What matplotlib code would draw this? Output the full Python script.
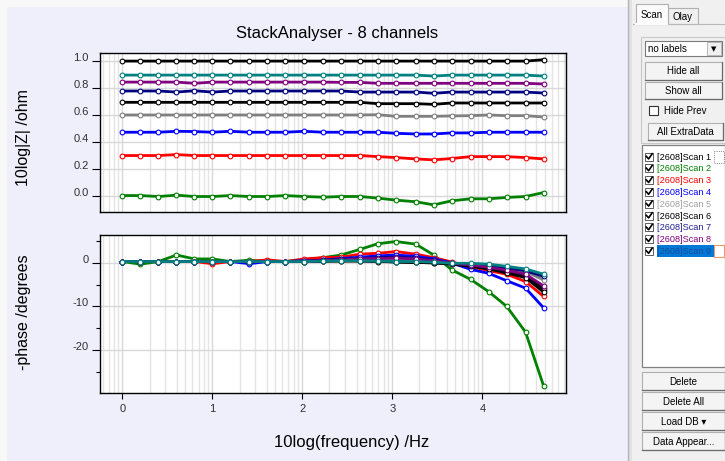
import matplotlib.pyplot as plt
from matplotlib.patches import Rectangle
import numpy as np

plt.rcParams['font.family'] = ['Liberation Sans', 'DejaVu Sans']

W, H = 725, 461

# log10 of the measured frequencies
log_freq = [0.0, 0.2, 0.4, 0.6, 0.8, 1.0, 1.2, 1.41, 1.61, 1.81, 2.02, 2.23,
            2.43, 2.64, 2.84, 3.04, 3.26, 3.46, 3.66, 3.87, 4.07, 4.27, 4.48, 4.68]

scan_names = ['[2608]Scan 1', '[2608]Scan 2', '[2608]Scan 3', '[2608]Scan 4',
              '[2608]Scan 5', '[2608]Scan 6', '[2608]Scan 7', '[2608]Scan 8',
              '[2608]Scan 9']
scan_colors = ['#000000', '#008000', '#ff0000', '#0000ff', '#808080',
               '#000000', '#000080', '#800080', '#008080']
name_colors = ['#000000', '#008000', '#ff0000', '#0000ff', '#a0a0a0',
               '#000000', '#202090', '#800080', '#1a4f9a']

# 10log|Z| per channel (offset stacked)
z_scan1 = [1.000, 1.000, 1.000, 1.000, 1.000, 1.000, 1.000, 1.000, 1.000, 1.000, 1.000, 1.000,
           1.000, 1.000, 1.000, 1.000, 1.000, 1.000, 1.000, 1.000, 1.000, 1.000, 1.000, 1.010]
z_scan2 = [0.002, 0.002, -0.005, 0.005, -0.005, -0.005, 0.002, -0.005, -0.005, 0.002, -0.005, -0.010,
           -0.005, -0.005, -0.017, -0.032, -0.044, -0.067, -0.037, -0.022, -0.022, -0.012, -0.005, 0.024]
z_scan3 = [0.299, 0.299, 0.299, 0.306, 0.299, 0.299, 0.299, 0.299, 0.299, 0.299, 0.299, 0.299,
           0.299, 0.299, 0.291, 0.284, 0.274, 0.267, 0.277, 0.291, 0.291, 0.291, 0.284, 0.274]
z_scan4 = [0.472, 0.472, 0.472, 0.479, 0.477, 0.472, 0.479, 0.472, 0.472, 0.472, 0.479, 0.472,
           0.472, 0.472, 0.472, 0.464, 0.459, 0.459, 0.467, 0.467, 0.472, 0.472, 0.472, 0.472]
z_scan5 = [0.600, 0.600, 0.600, 0.600, 0.600, 0.600, 0.600, 0.600, 0.600, 0.600, 0.600, 0.600,
           0.600, 0.600, 0.602, 0.590, 0.590, 0.590, 0.593, 0.595, 0.600, 0.595, 0.595, 0.585]
z_scan6 = [0.694, 0.694, 0.694, 0.694, 0.694, 0.694, 0.694, 0.694, 0.694, 0.694, 0.694, 0.694,
           0.694, 0.694, 0.684, 0.684, 0.684, 0.679, 0.689, 0.689, 0.689, 0.689, 0.689, 0.689]
z_scan7 = [0.778, 0.778, 0.778, 0.770, 0.780, 0.770, 0.778, 0.778, 0.778, 0.778, 0.778, 0.778,
           0.778, 0.770, 0.770, 0.770, 0.770, 0.761, 0.770, 0.770, 0.770, 0.770, 0.770, 0.763]
z_scan8 = [0.844, 0.844, 0.844, 0.844, 0.835, 0.844, 0.844, 0.844, 0.844, 0.844, 0.844, 0.844,
           0.842, 0.842, 0.835, 0.835, 0.835, 0.835, 0.835, 0.835, 0.835, 0.835, 0.835, 0.830]
z_scan9 = [0.896, 0.896, 0.896, 0.896, 0.896, 0.896, 0.896, 0.896, 0.896, 0.896, 0.896, 0.896,
           0.896, 0.896, 0.896, 0.896, 0.896, 0.889, 0.896, 0.896, 0.896, 0.896, 0.896, 0.889]

# -phase in degrees per channel
p_scan1 = [0.3, 0.3, 0.3, 0.3, 0.3, 0.3, 0.3, 0.3, 0.3, 0.3, 0.3, 0.4,
           0.5, 0.5, 0.4, 0.2, 0.1, 0.0, -0.2, -0.6, -1.2, -2.0, -3.1, -5.9]
p_scan2 = [0.3, -0.3, 0.3, 1.8, 0.9, 0.9, 0.3, 0.6, 0.3, 0.3, 0.7, 1.2,
           1.8, 3.1, 4.4, 4.9, 4.3, 1.8, -1.6, -3.8, -6.6, -10.0, -15.9, -28.2]
p_scan3 = [0.3, 0.3, 0.3, 0.3, 0.3, -0.2, 0.3, 0.3, 0.7, 0.3, 0.9, 1.2,
           1.3, 2.0, 2.2, 2.6, 2.0, 1.2, 0.2, -0.9, -1.8, -2.6, -4.3, -7.7]
p_scan4 = [0.3, 0.3, 0.3, 0.3, 0.3, 0.3, 0.3, -0.2, 0.3, 0.3, 0.5, 0.6,
           1.0, 1.3, 1.6, 1.8, 1.5, 0.9, 0.0, -1.5, -2.4, -4.1, -5.8, -10.3]
p_scan5 = [0.3, 0.3, 0.3, 0.3, 0.3, 0.3, 0.3, 0.3, 0.3, 0.3, 0.4, 0.5,
           0.6, 0.7, 0.8, 0.8, 0.7, 0.4, -0.1, -0.4, -0.8, -1.3, -2.0, -3.9]
p_scan6 = [0.3, 0.3, 0.3, 0.3, 0.3, 0.3, 0.3, 0.3, 0.3, 0.3, 0.3, 0.4,
           0.4, 0.4, 0.3, 0.2, 0.1, 0.0, -0.3, -0.8, -1.4, -2.3, -3.4, -6.7]
p_scan7 = [0.3, 0.3, 0.3, 0.3, 0.3, 0.3, 0.3, 0.3, 0.3, 0.3, 0.4, 0.6,
           0.8, 1.0, 1.2, 1.3, 1.1, 0.6, -0.1, -0.4, -0.7, -1.2, -1.8, -3.1]
p_scan8 = [0.3, 0.3, 0.3, 0.3, 0.3, 0.3, 0.3, 0.3, 0.3, 0.3, 0.4, 0.5,
           0.7, 0.9, 1.0, 1.1, 0.9, 0.5, -0.1, -0.5, -1.0, -1.7, -2.6, -5.3]
p_scan9 = [0.3, 0.3, 0.3, 0.3, 0.3, 0.3, 0.3, 0.3, 0.3, 0.3, 0.3, 0.4,
           0.5, 0.5, 0.4, 0.3, 0.3, 0.15, -0.1, -0.1, -0.3, -0.8, -1.4, -2.6]

z_all = [z_scan1, z_scan2, z_scan3, z_scan4, z_scan5, z_scan6, z_scan7, z_scan8, z_scan9]
p_all = [p_scan1, p_scan2, p_scan3, p_scan4, p_scan5, p_scan6, p_scan7, p_scan8, p_scan9]


def box(x0, y0, x1, y1):
    # pixel box (top-left origin) -> figure fraction rect
    return [x0 / W, 1 - y1 / H, (x1 - x0) / W, (y1 - y0) / H]


fig = plt.figure(figsize=(W / 100, H / 100), dpi=100)
fig.patch.set_facecolor('#f8f8f8')

# window chrome drawn in pixel coordinates
bg = fig.add_axes([0, 0, 1, 1])
bg.set_zorder(-1)
bg.set_xlim(0, W)
bg.set_ylim(H, 0)
bg.axis('off')

bg.add_patch(Rectangle((7, 7), 621, 460, facecolor='#efeffb', edgecolor='none'))
bg.add_patch(Rectangle((628, 0), 4, H, facecolor='#e2e2e2', edgecolor='none'))
bg.plot([628, 628], [0, H], color='#b4b4b4', lw=1)
bg.add_patch(Rectangle((632, 0), W - 632, H, facecolor='#f0f0f0', edgecolor='none'))

ui_font = dict(fontsize=7, color='#000000')


def button(x, y, w, h, label):
    bg.add_patch(Rectangle((x, y), w, h, facecolor='#f4f4f4', edgecolor='#b0b0b0', lw=0.8))
    bg.plot([x, x + w, x + w], [y + h, y + h, y], color='#6a6a6a', lw=0.9)
    bg.text(x + w / 2, y + h / 2 + 0.5, label, ha='center', va='center', **ui_font)


# tabs
bg.plot([633, W], [24, 24], color='#b9b9b9', lw=0.8)
bg.add_patch(Rectangle((668, 8), 30, 16, facecolor='#f0f0f0', edgecolor='#b0b0b0', lw=0.8))
bg.text(683, 16.5, 'Olay', ha='center', va='center', **ui_font)
bg.add_patch(Rectangle((636, 4), 32, 20.5, facecolor='#fbfbfb', edgecolor='#b0b0b0', lw=0.8))
bg.plot([636.5, 667.5], [24, 24], color='#fbfbfb', lw=1.5)
bg.text(652, 14.5, 'Scan', ha='center', va='center', **ui_font)

# option group
bg.add_patch(Rectangle((641, 37), 84, 106, facecolor='none', edgecolor='#c8c8c8', lw=0.8))
bg.add_patch(Rectangle((645, 41), 77, 15, facecolor='white', edgecolor='#7a7a7a', lw=0.8))
bg.add_patch(Rectangle((707, 42), 14, 13, facecolor='#f0f0f0', edgecolor='#b0b0b0', lw=0.6))
bg.text(648, 49, 'no labels', ha='left', va='center', **ui_font)
bg.text(714, 49, '\u25bc', ha='center', va='center', fontsize=5, family='DejaVu Sans')
button(645, 62, 77, 18, 'Hide all')
button(645, 82, 77, 17, 'Show all')
bg.add_patch(Rectangle((649, 106), 9, 9, facecolor='white', edgecolor='#333333', lw=0.8))
bg.text(664, 111, 'Hide Prev', ha='left', va='center', **ui_font)
button(648, 123, 75, 17, 'All ExtraData')

# scan list
bg.add_patch(Rectangle((642, 145), 83, 222, facecolor='white', edgecolor='#828282', lw=0.9))
for i, (name, col) in enumerate(zip(scan_names, name_colors)):
    yc = 156.5 + i * 11.8
    bg.add_patch(Rectangle((645, yc - 4), 8, 8, facecolor='white', edgecolor='#444444', lw=0.6))
    bg.plot([646.3, 648.6, 652.2], [yc - 0.2, yc + 2.4, yc - 2.8], color='black', lw=1.2)
    if i == len(scan_names) - 1:
        bg.add_patch(Rectangle((657, yc - 6), 57, 12, facecolor='#0078d7', edgecolor='none'))
        bg.add_patch(Rectangle((714, yc - 6), 10, 12, facecolor='white', edgecolor='#f09a6a', lw=0.8))
    if i == 0:
        bg.add_patch(Rectangle((714, yc - 6), 10, 12, facecolor='none', edgecolor='#555555',
                               lw=0.6, ls=':'))
    bg.text(657, yc + 0.5, name, ha='left', va='center', fontsize=6.6, color=col)

button(642, 372, 83, 18, 'Delete')
button(642, 392, 83, 18, 'Delete All')
button(642, 412, 83, 18, 'Load DB \u25be')
button(642, 432, 83, 18, 'Data Appear...')

# plot panels
ax1 = fig.add_axes(box(100, 53, 566, 212))
ax2 = fig.add_axes(box(100, 235, 566, 393))

xlim = (-0.25, 4.93)
log_minor = [n + np.log10(k) for n in range(-1, 5) for k in range(2, 10)]
log_minor = [v for v in log_minor if xlim[0] < v < xlim[1]]

for ax in (ax1, ax2):
    ax.set_facecolor('white')
    ax.set_xlim(*xlim)
    for v in log_minor:
        ax.axvline(v, color='#e4e4e4', lw=1, zorder=0)
    for v in range(0, 5):
        ax.axvline(v, color='#d8d8d8', lw=1, zorder=0)
    for s in ax.spines.values():
        s.set_color('black')
        s.set_linewidth(1)
    ax.tick_params(axis='y', which='major', length=6, width=0.8, direction='out',
                   pad=2, labelsize=8, labelcolor='#303030')
    ax.tick_params(axis='y', which='minor', length=3, width=0.8, direction='out')

for z, col in zip(z_all, scan_colors):
    ax1.plot(log_freq, z, color=col, lw=2, marker='o', ms=3.4, mfc='white', mec=col, mew=0.8)
for p, col in zip(p_all, scan_colors):
    ax2.plot(log_freq, p, color=col, lw=2, marker='o', ms=3.4, mfc='white', mec=col, mew=0.8)

ax1.set_ylim(-0.12, 1.06)
ax1.set_yticks([0.0, 0.2, 0.4, 0.6, 0.8, 1.0])
ax1.set_yticklabels(['0.0', '0.2', '0.4', '0.6', '0.8', '1.0'])
for yv in [0.0, 0.2, 0.4, 0.6, 0.8, 1.0]:
    ax1.axhline(yv, color='#d8d8d8', lw=1, zorder=0)
ax1.set_xticks([])

ax2.set_ylim(-29.9, 6.4)
ax2.set_yticks([-20, -10, 0])
ax2.set_yticklabels(['-20', '-10', '0'])
ax2.set_yticks([-25, -15, -5, 5], minor=True)
for yv in [-20, -10, 0]:
    ax2.axhline(yv, color='#d8d8d8', lw=1, zorder=0)
ax2.set_xticks([0, 1, 2, 3, 4])
ax2.set_xticklabels(['0', '1', '2', '3', '4'])
ax2.tick_params(axis='x', length=4, width=0.8, direction='out', pad=4,
                labelsize=8, labelcolor='#303030')

for ax in (ax1, ax2):
    for lab in ax.get_yticklabels():
        lab.set_va('baseline')

fig.text(337 / W, 1 - 33 / H, 'StackAnalyser - 8 channels', ha='center', va='center', fontsize=12)
fig.text(24 / W, 1 - 138 / H, '10log|Z| /ohm', ha='center', va='center', rotation=90, fontsize=11.5)
fig.text(24 / W, 1 - 312 / H, '-phase /degrees', ha='center', va='center', rotation=90, fontsize=11.5)
fig.text(352 / W, 1 - 442 / H, '10log(frequency) /Hz', ha='center', va='center', fontsize=12)

plt.savefig('out.png', dpi=100, facecolor=fig.get_facecolor())
